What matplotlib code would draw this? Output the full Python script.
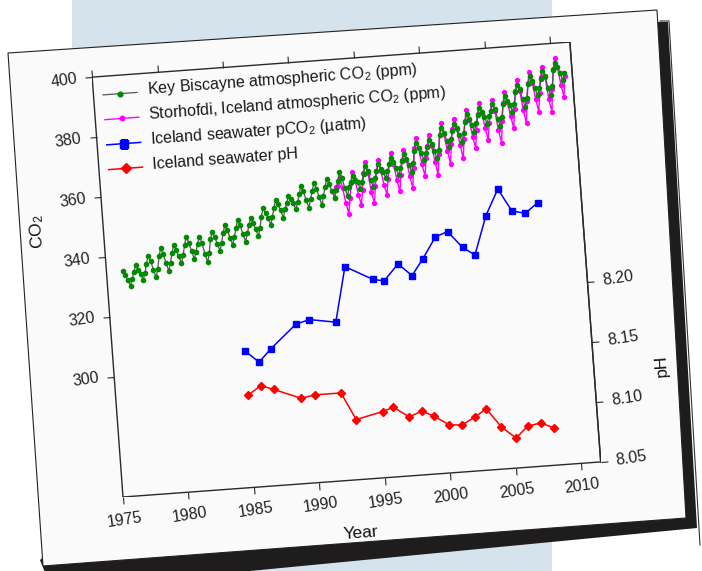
"""Tilted page with Iceland / Key Biscayne CO2 and pH time series."""

import matplotlib

matplotlib.use("Agg")
import matplotlib.pyplot as plt
import numpy as np
from matplotlib.lines import Line2D
from matplotlib.patches import Polygon
from matplotlib.transforms import Affine2D
import mpl_toolkits.axisartist.floating_axes as floating_axes
from mpl_toolkits.axisartist.grid_finder import FixedLocator, DictFormatter

plt.rcParams["font.family"] = ["Liberation Sans", "DejaVu Sans"]
plt.rcParams["mathtext.fontset"] = "custom"
plt.rcParams["mathtext.rm"] = "Liberation Sans"
plt.rcParams["mathtext.it"] = "Liberation Sans:italic"

# ---------------------------------------------------------------- data
# Key Biscayne atmospheric CO2 (ppm), bimonthly Feb/Apr/Jun/Aug/Oct/Dec, from Apr 1976
kb_start = 1976.25
kb_co2 = [
    334.9, 333.6, 331.8, 329.9, 332.0,
    334.5, 336.6, 335.0, 333.5, 331.5, 333.6,
    336.8, 339.4, 337.6, 334.6, 332.0, 334.8,
    338.9, 341.6, 339.5, 336.4, 333.9, 336.5,
    339.8, 342.3, 340.6, 338.5, 336.1, 338.7,
    342.0, 344.8, 342.8, 339.8, 337.2, 339.6,
    342.2, 344.5, 342.4, 338.6, 335.8, 338.9,
    343.3, 345.8, 344.0, 341.7, 339.3, 341.9,
    345.2, 347.7, 345.9, 343.4, 340.9, 343.6,
    346.5, 349.1, 347.2, 344.3, 341.7, 344.4,
    347.0, 349.3, 347.6, 345.6, 343.1, 346.0,
    349.6, 352.3, 350.8, 349.0, 346.6, 349.3,
    352.2, 354.8, 353.3, 351.2, 348.7, 351.5,
    353.6, 355.9, 354.6, 353.2, 351.2, 353.6,
    356.3, 358.9, 357.0, 353.9, 351.4, 354.3,
    356.9, 359.4, 357.6, 354.6, 352.0, 355.0,
    357.9, 360.5, 358.8, 356.4, 354.0, 356.6,
    359.7, 362.4, 360.5, 357.0, 354.5, 357.2,
    359.0, 361.0, 359.6, 358.6, 356.5, 358.8,
    361.4, 363.8, 362.0, 359.2, 356.8, 359.6,
    361.9, 364.1, 362.6, 361.4, 359.3, 361.6,
    363.8, 366.0, 364.6, 362.3, 360.0, 362.4,
    364.6, 366.8, 365.3, 363.2, 360.9, 363.6,
    367.8, 370.4, 368.6, 366.8, 364.5, 366.8,
    368.8, 371.1, 369.4, 367.1, 364.7, 367.4,
    372.3, 374.7, 373.0, 370.3, 368.0, 370.6,
    373.4, 375.8, 374.1, 372.0, 369.6, 372.3,
    376.2, 378.5, 376.9, 375.0, 372.6, 375.3,
    378.1, 380.4, 378.9, 377.3, 375.0, 377.3,
    378.9, 381.2, 379.6, 376.3, 373.7, 376.9,
    381.1, 383.6, 382.0, 380.6, 378.3, 380.8,
    384.6, 387.2, 385.5, 382.2, 379.6, 382.6,
    387.0, 389.6, 388.0, 385.6, 383.1, 385.6,
    388.6, 391.0, 389.4, 385.4, 382.8, 385.8,
    391.0, 393.5, 392.0, 390.0, 387.5, 390.0,
]

# Storhofdi, Iceland atmospheric CO2 (ppm), same bimonthly grid, from Oct 1992
st_start = 1992.75
st_co2 = [
    354.0, 357.5,
    358.0, 361.0, 357.0, 352.0, 348.4, 353.5,
    358.5, 362.3, 359.0, 354.5, 351.1, 356.0,
    361.5, 365.3, 361.5, 355.0, 351.3, 357.0,
    362.0, 365.6, 362.0, 357.0, 353.8, 359.0,
    364.0, 367.5, 364.0, 358.5, 354.6, 360.0,
    365.0, 368.3, 365.0, 359.5, 355.4, 362.0,
    368.5, 371.9, 368.5, 363.0, 359.0, 365.0,
    369.0, 372.6, 369.0, 363.5, 359.2, 366.0,
    372.5, 376.2, 372.5, 367.0, 362.5, 369.0,
    374.0, 377.3, 374.0, 368.5, 364.1, 370.5,
    376.5, 380.0, 376.5, 371.0, 367.1, 373.0,
    378.5, 381.9, 378.5, 373.5, 369.5, 375.0,
    379.0, 382.7, 379.0, 372.5, 368.2, 375.5,
    381.5, 385.1, 381.5, 377.0, 372.8, 379.0,
    385.0, 388.7, 385.0, 378.5, 374.1, 381.5,
    387.5, 391.1, 387.5, 382.0, 377.6, 384.0,
    389.0, 392.5, 389.0, 381.5, 377.3, 385.0,
    391.5, 395.0, 392.0, 386.0, 382.0, 389.0,
]

# Iceland seawater surveys
sea_years = [1985.1, 1986.1, 1987.05, 1989.1, 1990.15, 1992.15, 1993.15,
             1995.2, 1996.05, 1997.2, 1998.2, 1999.1, 2000.2, 2001.15,
             2002.2, 2003.1, 2004.15, 2005.2, 2006.15, 2007.15, 2008.15]
sea_pco2 = [305.4, 301.4, 305.5, 313.1, 314.3, 312.8, 331.0,
            326.1, 325.3, 330.6, 326.4, 331.6, 338.7, 340.1,
            334.5, 331.7, 344.5, 353.0, 345.4, 344.3, 347.5]
sea_ph = [8.127, 8.134, 8.130, 8.121, 8.123, 8.123, 8.100,
          8.105, 8.108, 8.099, 8.103, 8.098, 8.090, 8.089,
          8.095, 8.101, 8.085, 8.075, 8.084, 8.086, 8.081]

year_ticks = [1975, 1980, 1985, 1990, 1995, 2000, 2005, 2010]
co2_ticks = [300, 320, 340, 360, 380, 400]
ph_ticks = [8.05, 8.10, 8.15, 8.20]
ph_tick_labels = ["8.05", "8.10", "8.15", "8.20"]

legend_labels = [
    "Key Biscayne atmospheric CO$_2$ (ppm)",
    "Storhofdi, Iceland atmospheric CO$_2$ (ppm)",
    "Iceland seawater pCO$_2$ (\u00b5atm)",
    "Iceland seawater pH",
]

# ---------------------------------------------------------------- layout
FIG_W, FIG_H = 702, 571
ANGLE = 4.2                      # tilt of the photographed page
BOX_W, BOX_H = 479.0, 421.0      # plot box size in pixels
ORIGIN = (123.0, FIG_H - 497.0)  # bottom-left corner of plot box, pixels
YEAR_LIM = (1975, 2011.5)
CO2_LIM = (260, 400)
PH_LIM = (8.05, 8.40)
INK = "#2a2a2a"

fig = plt.figure(figsize=(FIG_W / 100, FIG_H / 100), dpi=100)
fig.patch.set_facecolor("white")


def img_poly(points):
    """Image pixel coords (y down) -> figure fraction."""
    pts = np.asarray(points, dtype=float)
    return np.column_stack([pts[:, 0] / FIG_W, 1 - pts[:, 1] / FIG_H])


# backdrop: blue panel, second sheet, shadow and the page itself
fig.add_artist(Polygon(img_poly([(72, 0), (552, 0), (552, 571), (72, 571)]),
                       closed=True, transform=fig.transFigure,
                       facecolor="#d5e3ed", edgecolor="none", zorder=-10))
fig.add_artist(Line2D(*img_poly([(660, 21), (669, 21), (700, 545)]).T,
                      transform=fig.transFigure, color="#333333", lw=0.8,
                      zorder=-9))
fig.add_artist(Polygon(img_poly([(652, 22), (668, 22), (697, 528),
                                 (52, 590), (40, 560)]),
                       closed=True, transform=fig.transFigure,
                       facecolor="#1e1c1c", edgecolor="none", zorder=-8))
fig.add_artist(Polygon(img_poly([(8, 53), (657, 10), (686, 518), (43, 566)]),
                       closed=True, transform=fig.transFigure,
                       facecolor="#fafafa", edgecolor="#222222", lw=0.8,
                       zorder=-7))


def box_transform(xlim, ylim):
    return (Affine2D()
            .translate(-xlim[0], -ylim[0])
            .scale(BOX_W / (xlim[1] - xlim[0]), BOX_H / (ylim[1] - ylim[0]))
            .rotate_deg(ANGLE))


corners = Affine2D().rotate_deg(ANGLE).transform(
    [[0, 0], [BOX_W, 0], [BOX_W, BOX_H], [0, BOX_H]])
xmin, ymin = corners.min(axis=0)
xmax, ymax = corners.max(axis=0)
rect = [(ORIGIN[0] + xmin) / FIG_W, (ORIGIN[1] + ymin) / FIG_H,
        (xmax - xmin) / FIG_W, (ymax - ymin) / FIG_H]


def make_axes(tr, ylim, yticks, ylabels):
    gh = floating_axes.GridHelperCurveLinear(
        tr, extremes=(YEAR_LIM[0], YEAR_LIM[1], ylim[0], ylim[1]),
        grid_locator1=FixedLocator(year_ticks),
        grid_locator2=FixedLocator(yticks),
        tick_formatter1=DictFormatter({t: str(t) for t in year_ticks}),
        tick_formatter2=DictFormatter(dict(zip(yticks, ylabels))))
    ax = fig.add_axes(rect, axes_class=floating_axes.FloatingAxes,
                      grid_helper=gh)
    ax.set_xlim(xmin, xmax)
    ax.set_ylim(ymin, ymax)
    ax.patch.set_visible(False)
    for name in ["left", "right", "top", "bottom"]:
        axis = ax.axis[name]
        axis.line.set_color(INK)
        axis.line.set_linewidth(1.0)
        axis.major_ticks.set_tick_out(True)
        axis.major_ticks.set_ticksize(5)
        axis.major_ticks.set_color(INK)
        labels = axis.major_ticklabels
        labels.set_fontsize(11.5)
        labels.set_color("#222222")
        labels.set_pad(6)
        labels.set_rotation(labels.get_rotation() + ANGLE)
        axis.label.set_visible(False)
    return ax


tr_co2 = box_transform(YEAR_LIM, CO2_LIM)
tr_ph = box_transform(YEAR_LIM, PH_LIM)

ax = make_axes(tr_co2, CO2_LIM, co2_ticks, [str(t) for t in co2_ticks])
ax.axis["top"].toggle(ticklabels=False)
ax.axis["right"].toggle(ticks=False, ticklabels=False)

ax_ph = make_axes(tr_ph, PH_LIM, ph_ticks, ph_tick_labels)
for name in ["left", "top", "bottom"]:
    ax_ph.axis[name].set_visible(False)
ax_ph.axis["right"].toggle(ticks=True, ticklabels=True)

aux = ax.get_aux_axes(tr_co2)
aux_ph = ax_ph.get_aux_axes(tr_ph)

kb_years = kb_start + np.arange(len(kb_co2)) / 6
st_years = st_start + np.arange(len(st_co2)) / 6

styles = [
    dict(color="#555555", lw=0.9, marker="o", ms=3.0,
         mfc="#008a00", mec="#008a00"),
    dict(color="#ff00ff", lw=1.0, marker="o", ms=2.8,
         mfc="#ff00ff", mec="#ff00ff"),
    dict(color="#0000ff", lw=1.1, marker="s", ms=5.0,
         mfc="#0000ff", mec="#0000ff"),
    dict(color="#ff0000", lw=1.1, marker="D", ms=4.5,
         mfc="#ff0000", mec="#ff0000"),
]

aux.plot(st_years, st_co2, zorder=2, **styles[1])
aux.plot(kb_years, kb_co2, zorder=3, **styles[0])
aux.plot(sea_years, sea_pco2, zorder=3, **styles[2])
aux_ph.plot(sea_years, sea_ph, zorder=3, **styles[3])

# legend and axis titles, placed in plot-box fractions so they tilt with the page
box_tr = Affine2D().scale(BOX_W, BOX_H).rotate_deg(ANGLE) + ax.transData
legend_y = [0.956, 0.897, 0.837, 0.778]
for label, style, yy in zip(legend_labels, styles, legend_y):
    line_style = {k: v for k, v in style.items() if not k.startswith("m")}
    ax.add_line(Line2D([0.020, 0.091], [yy, yy], transform=box_tr,
                       **line_style))
    ax.add_line(Line2D([0.0555], [yy], transform=box_tr, ls="none",
                       marker=style["marker"], ms=style["ms"] + 0.4,
                       mfc=style["mfc"], mec=style["mec"]))
    ax.text(0.112, yy + 0.004, label, transform=box_tr, rotation=ANGLE,
            rotation_mode="anchor", ha="left", va="center", fontsize=11.5,
            color="#1a1a1a")

title_kw = dict(transform=box_tr, rotation_mode="anchor", ha="center",
                va="center", fontsize=12.5, color="#111111")
ax.text(-0.137, 0.643, "CO$_2$", rotation=90 + ANGLE, **title_kw)
ax.text(0.490, -0.127, "Year", rotation=ANGLE, **title_kw)
ax.text(1.142, 0.217, "pH", rotation=90 + ANGLE, **title_kw)

ax.set_xlim(xmin, xmax)
ax.set_ylim(ymin, ymax)

fig.savefig("out.png", dpi=100, facecolor=fig.get_facecolor())
